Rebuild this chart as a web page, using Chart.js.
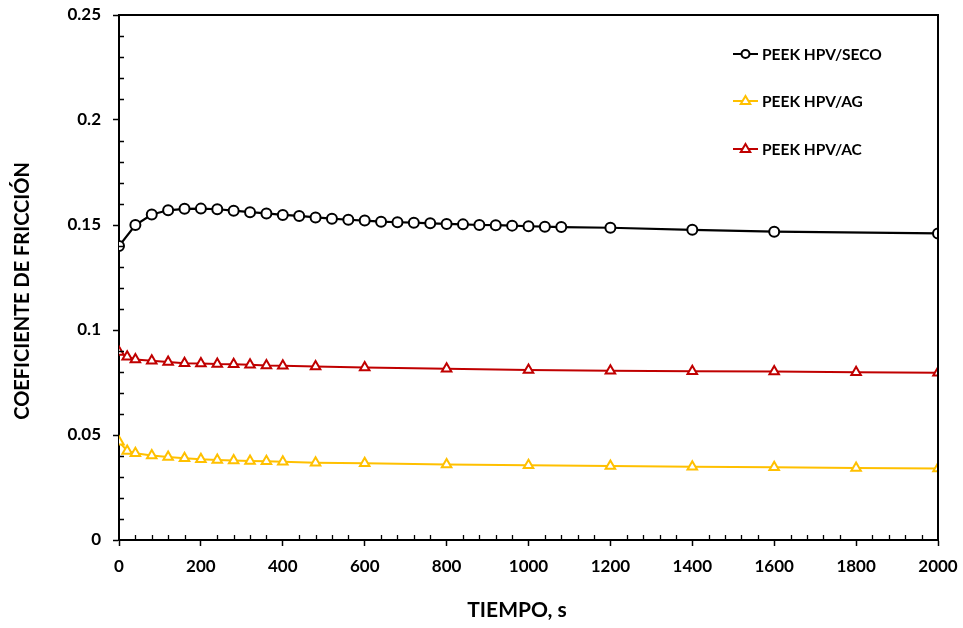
<!DOCTYPE html>
<html><head><meta charset="utf-8">
<script src="https://cdn.jsdelivr.net/npm/chart.js@4.4.1/dist/chart.umd.min.js"></script>
<style>html,body{margin:0;padding:0;background:#fff;}#wrap{width:963px;height:628px;}</style>
</head><body><div id="wrap"><canvas id="c" width="963" height="628"></canvas></div>
<script>
const timeSeco = [0,40,80,120,160,200,240,280,320,360,400,440,480,520,560,600,640,680,720,760,800,840,880,920,960,1000,1040,1080,1200,1400,1600,2000];
const seco     = [0.140,0.150,0.155,0.157,0.1577,0.1578,0.1575,0.1568,0.1561,0.1555,0.1548,0.1543,0.1536,0.1530,0.1525,0.1521,0.1516,0.1513,0.1511,0.1508,0.1505,0.1503,0.1500,0.1499,0.1497,0.1494,0.1492,0.1490,0.1487,0.1477,0.1468,0.1460];
const timeWet  = [0,20,40,80,120,160,200,240,280,320,360,400,480,600,800,1000,1200,1400,1600,1800,2000];
const ag       = [0.0468,0.0424,0.0413,0.0402,0.0395,0.0389,0.0384,0.0381,0.0378,0.0376,0.0375,0.0373,0.0368,0.0365,0.0360,0.0356,0.0352,0.0349,0.0346,0.0343,0.0340];
const ac       = [0.0895,0.0873,0.0860,0.0854,0.0848,0.0842,0.0841,0.0838,0.0837,0.0835,0.0831,0.0830,0.0826,0.0821,0.0815,0.0810,0.0806,0.0803,0.0802,0.0799,0.0797];
const seriesNames = ['PEEK HPV/SECO','PEEK HPV/AG','PEEK HPV/AC'];
const xTicks = [0,200,400,600,800,1000,1200,1400,1600,1800,2000];
const yTicks = [0,0.05,0.1,0.15,0.2,0.25];
const xTitle = 'TIEMPO, s';
const yTitle = 'COEFICIENTE DE FRICCIÓN';

const FONT = 'Lato, "Open Sans", sans-serif';
const toPts = (xs, ys) => xs.map((x, i) => ({x: x, y: ys[i]}));

const boxPlugin = {
  id: 'box',
  afterDraw(chart) {
    const ctx = chart.ctx, a = chart.chartArea;
    const xs = chart.scales.x, ys = chart.scales.y;
    ctx.save();
    ctx.strokeStyle = '#000';
    ctx.lineWidth = 2;
    ctx.beginPath();
    ctx.moveTo(a.left, a.top); ctx.lineTo(a.right, a.top); ctx.lineTo(a.right, a.bottom);
    ctx.stroke();
    ctx.lineWidth = 1.3;
    ctx.beginPath();
    for (let v = 40; v < 2000; v += 40) {
      if (v % 200 === 0) continue;
      const px = Math.round(xs.getPixelForValue(v)) + 0.5;
      ctx.moveTo(px, a.bottom); ctx.lineTo(px, a.bottom - 5);
    }
    for (let k = 1; k < 25; k++) {
      if (k % 5 === 0) continue;
      const py = Math.round(ys.getPixelForValue(k / 100)) + 0.5;
      ctx.moveTo(a.left, py); ctx.lineTo(a.left + 5, py);
    }
    ctx.stroke();
    // axis titles
    ctx.fillStyle = '#000';
    ctx.textAlign = 'center';
    ctx.textBaseline = 'middle';
    ctx.font = 'bold 21px ' + FONT;
    ctx.fillText(xTitle, 517, 610);
    ctx.save();
    ctx.translate(23, 291);
    ctx.rotate(-Math.PI / 2);
    ctx.font = 'bold 20px ' + FONT;
    ctx.fillText(yTitle, 0, 0);
    ctx.restore();
    // legend
    const items = chart.data.datasets;
    const rows = [54, 101, 149];
    items.forEach((ds, i) => {
      const y = rows[i];
      ctx.strokeStyle = ds.borderColor;
      ctx.lineWidth = 2;
      ctx.beginPath(); ctx.moveTo(733, y); ctx.lineTo(758, y); ctx.stroke();
      ctx.fillStyle = '#fff';
      ctx.lineWidth = 2;
      if (ds.pointStyle === 'circle') {
        ctx.beginPath(); ctx.arc(745.5, y, 4, 0, Math.PI * 2); ctx.fill(); ctx.stroke();
      } else {
        const r = 5;
        ctx.beginPath();
        ctx.moveTo(745.5, y - r);
        ctx.lineTo(745.5 + r * 0.95, y + r * 0.6);
        ctx.lineTo(745.5 - r * 0.95, y + r * 0.6);
        ctx.closePath(); ctx.fill(); ctx.stroke();
      }
      ctx.fillStyle = '#000';
      ctx.font = 'bold 15.5px ' + FONT;
      ctx.textBaseline = 'middle';
      ctx.textAlign = 'left';
      ctx.fillText(ds.label, 762, y + 1);
    });
    ctx.restore();
  }
};

new Chart(document.getElementById('c'), {
  type: 'line',
  data: {
    datasets: [
      {label: seriesNames[0], data: toPts(timeSeco, seco), borderColor: '#000000', backgroundColor: '#ffffff',
       borderWidth: 2.2, pointStyle: 'circle', pointRadius: 5, pointBorderWidth: 2, pointBackgroundColor: '#fff', pointBorderColor: '#000'},
      {label: seriesNames[1], data: toPts(timeWet, ag), borderColor: '#FFC000', backgroundColor: '#ffffff',
       borderWidth: 2, pointStyle: 'triangle', pointRadius: 5.5, pointBorderWidth: 2, pointBackgroundColor: '#fff', pointBorderColor: '#FFC000'},
      {label: seriesNames[2], data: toPts(timeWet, ac), borderColor: '#C00000', backgroundColor: '#ffffff',
       borderWidth: 2, pointStyle: 'triangle', pointRadius: 5.5, pointBorderWidth: 2, pointBackgroundColor: '#fff', pointBorderColor: '#C00000'}
    ]
  },
  options: {
    responsive: false,
    animation: false,
    events: [],
    layout: {padding: {top: 15, right: 25, left: 0, bottom: 0}},
    plugins: {legend: {display: false}, tooltip: {enabled: false}},
    scales: {
      x: {
        type: 'linear', min: 0, max: 2000,
        afterBuildTicks: s => { s.ticks = xTicks.map(v => ({value: v})); },
        afterFit: s => { s.height = 88; s.paddingLeft = 0; s.paddingRight = 0; },
        grid: {drawOnChartArea: false, color: '#000', tickLength: 6, tickWidth: 1.5},
        border: {color: '#000', width: 2},
        ticks: {color: '#000', font: {family: FONT, size: 17, weight: 'bold'}, padding: 10, maxRotation: 0, autoSkip: false,
                callback: v => String(v)},
        title: {display: false}
      },
      y: {
        type: 'linear', min: 0, max: 0.25,
        afterBuildTicks: s => { s.ticks = yTicks.map(v => ({value: v})); },
        afterFit: s => { s.width = 119; s.paddingTop = 0; s.paddingBottom = 0; },
        grid: {drawOnChartArea: false, color: '#000', tickLength: 6, tickWidth: 1.5},
        border: {color: '#000', width: 2},
        ticks: {color: '#000', font: {family: FONT, size: 17, weight: 'bold'}, padding: 12, autoSkip: false,
                callback: v => String(Math.round(v * 100) / 100)},
        title: {display: false}
      }
    }
  },
  plugins: [boxPlugin]
});
</script></body></html>
